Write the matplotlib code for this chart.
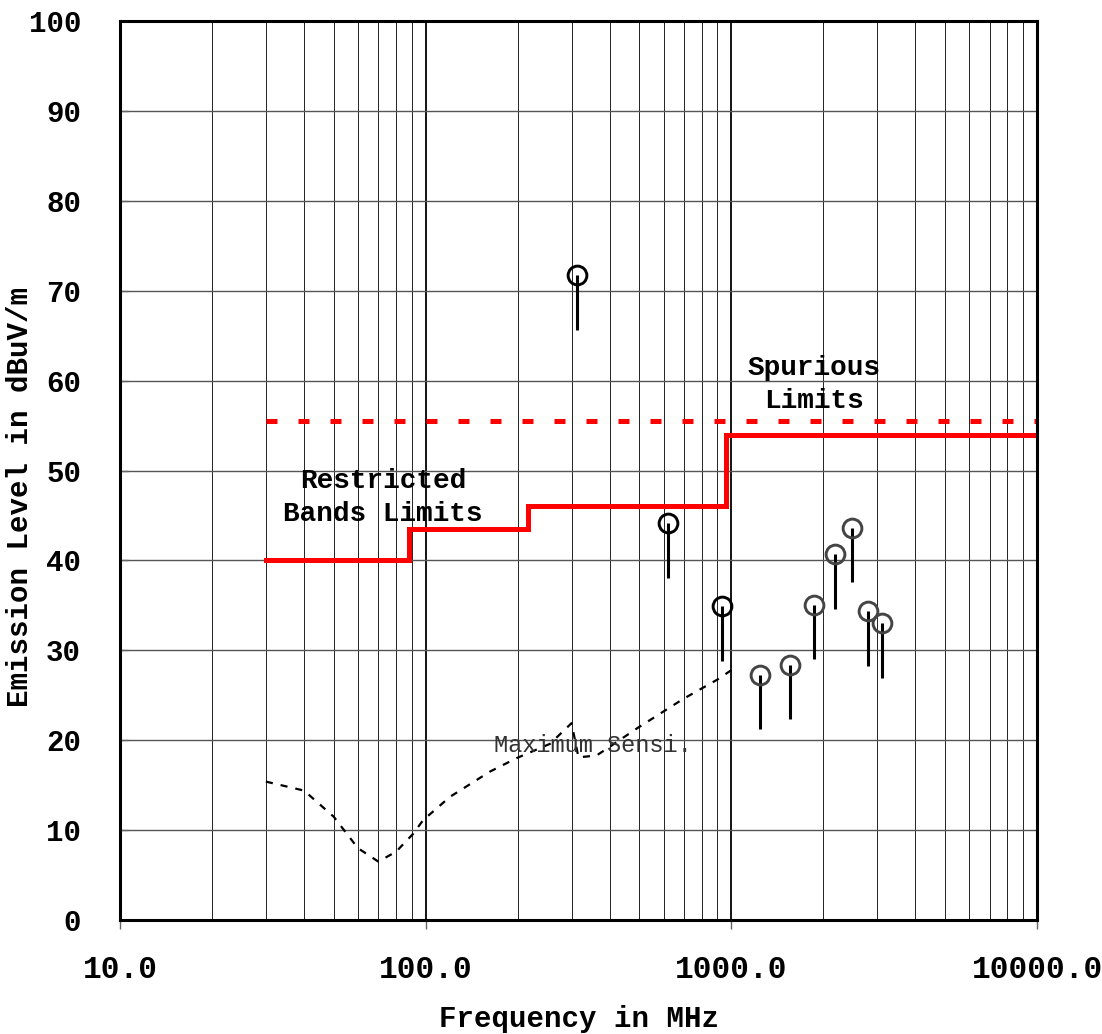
import numpy as np
import matplotlib
matplotlib.use('Agg')
from matplotlib import pyplot as plt
from matplotlib.ticker import FixedLocator, LogLocator, NullFormatter

# measured emissions (MHz, dBuV/m): circle = peak, stem bottom = average
peak_freq = [312, 620, 932, 1240, 1555, 1863, 2183, 2480, 2799, 3109]
peak_level = [71.7, 44.2, 34.9, 27.3, 28.4, 35.0, 40.7, 43.6, 34.4, 33.0]
avg_level = [65.6, 38.1, 28.8, 21.3, 22.4, 29.0, 34.6, 37.6, 28.3, 26.9]
peak_color = ['black', 'black', 'black', '#444444', '#444444', '#444444',
              '#444444', '#444444', '#444444', '#444444']

# restricted bands limit (step) and spurious limit
restr_freq = [30, 88, 216, 960, 10000]
restr_level = [40, 43.5, 46, 54, 54]
spur_freq = [30, 10000]
spur_level = [55.5, 55.5]

# maximum sensitivity of the measuring system
sens_freq = [30, 40, 50, 60, 70, 80, 91, 98, 120, 162, 198, 255, 300, 316,
             362, 401, 490, 696, 895, 1000]
sens_level = [15.4, 14.4, 11.5, 8.0, 6.5, 7.6, 9.6, 11.1, 13.7, 16.5, 18.0,
              19.6, 21.9, 18.1, 18.3, 19.3, 21.3, 24.6, 26.7, 27.8]

x_ticks = [10, 100, 1000, 10000]
x_ticklabels = ['10.0', '100.0', '1000.0', '10000.0']
y_ticks = list(range(0, 101, 10))

mono = 'Liberation Mono'

fig = plt.figure(figsize=(11.02, 10.34), dpi=100)
ax = fig.add_axes([0.1089, 0.1102, 0.8322, 0.8695])
ax.set_xscale('log')
ax.set_xlim(10, 10000)
ax.set_ylim(0, 100)

# grid
ax.xaxis.set_major_locator(FixedLocator(x_ticks))
ax.xaxis.set_minor_locator(LogLocator(base=10, subs=np.arange(2, 10)))
ax.xaxis.set_minor_formatter(NullFormatter())
ax.set_yticks(y_ticks)
ax.grid(which='major', axis='x', color='black', lw=1.3)
ax.grid(which='minor', axis='x', color='#222222', lw=0.7)
ax.grid(which='major', axis='y', color='#555555', lw=1.0)
ax.set_axisbelow(True)

# limits
ax.step(restr_freq, restr_level, where='post', color='red', lw=3.6,
        solid_joinstyle='miter')
ax.plot(spur_freq, spur_level, color='red', lw=3.6, ls=(0, (2.2, 4.2)))

# sensitivity
ax.plot(sens_freq, sens_level, color='black', lw=1.6, ls=(0, (3.2, 3.6)))

# measured peaks
for f, p, a, c in zip(peak_freq, peak_level, avg_level, peak_color):
    ax.plot([f, f], [p, a], color='black', lw=2.2, solid_capstyle='butt')
    ax.plot(f, p, 'o', ms=13.5, mfc='none', mec=c, mew=2.1)

ax.text(72.5, 47.0, 'Restricted\nBands Limits', ha='center', va='center',
        fontsize=20, fontweight='bold', family=mono, linespacing=1.35)
ax.text(1862, 59.6, 'Spurious\nLimits', ha='center', va='center',
        fontsize=20, fontweight='bold', family=mono, linespacing=1.35)
ax.text(167, 19.4, 'Maximum Sensi.', ha='left', va='center',
        fontsize=17, family=mono, color='#333333')

# ticks
ax.set_xticklabels(x_ticklabels, family=mono, fontweight='bold', fontsize=22.5)
ax.set_yticklabels([str(v) for v in y_ticks], family=mono, fontweight='bold',
                   fontsize=21)
ax.tick_params(axis='x', which='major', direction='out', length=6.5,
               width=1, color='#666666', pad=19)
ax.tick_params(axis='x', which='minor', length=0)
ax.tick_params(axis='y', direction='in', length=5.8, width=1,
               color='#666666', pad=28)

ax.set_xlabel('Frequency in MHz', family=mono, fontweight='bold',
              fontsize=21, labelpad=14)
ax.set_ylabel('Emission Level in dBuV/m', family=mono, fontweight='bold',
              fontsize=21)
ax.yaxis.set_label_coords(-0.094, 0.47)

for s in ax.spines.values():
    s.set_linewidth(2.2)
    s.set_color('black')

fig.savefig('out.png', dpi=100)
